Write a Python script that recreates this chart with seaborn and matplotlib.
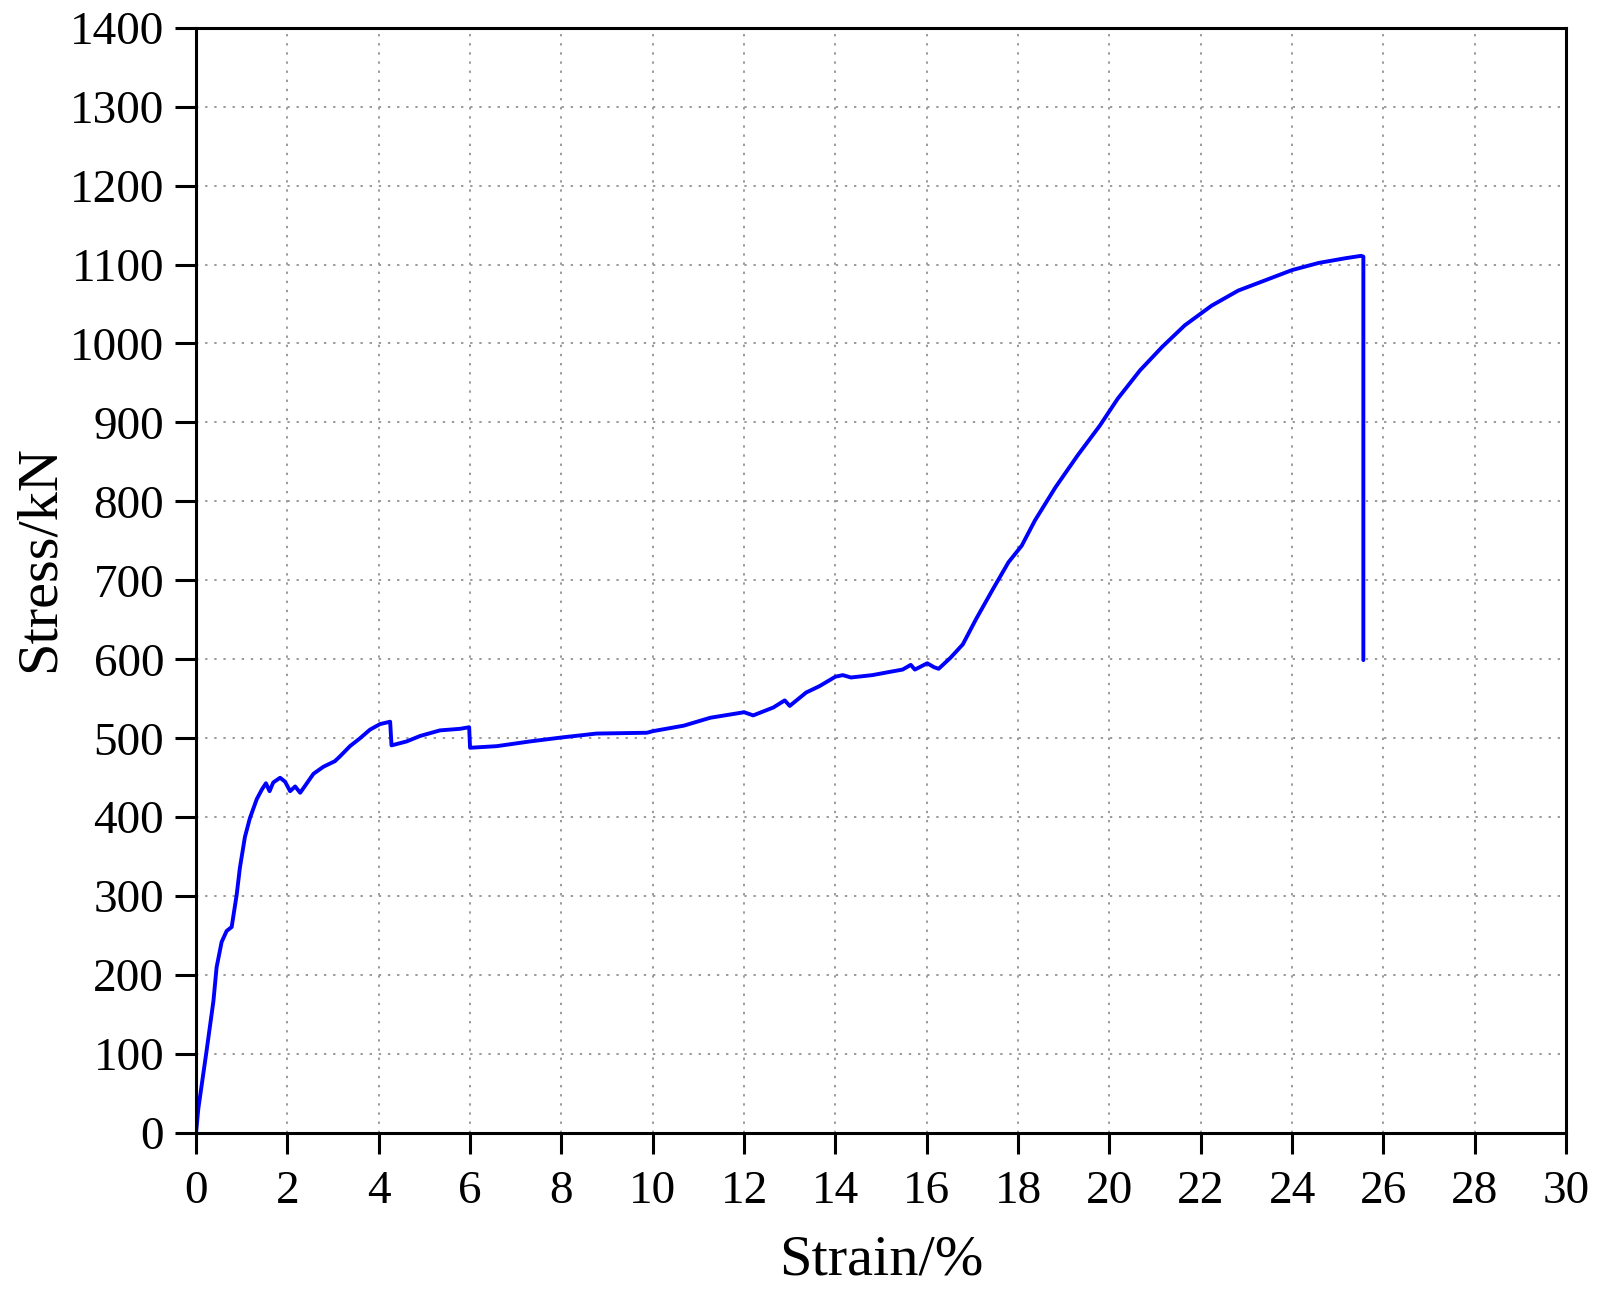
import matplotlib
matplotlib.use("Agg")
import matplotlib.pyplot as plt
import seaborn as sns
import pandas as pd

# strain (%) and stress (kN)
strain = [0, 0.05, 0.23, 0.38, 0.45, 0.56, 0.67, 0.78, 0.89, 0.96, 1.07, 1.18, 1.33, 1.44,
          1.53, 1.61, 1.69, 1.84, 1.95, 2.06, 2.17, 2.28, 2.39, 2.57, 2.79, 3.04, 3.15, 3.37,
          3.59, 3.81, 4.03, 4.25, 4.28, 4.61, 4.91, 5.34, 5.78, 5.98, 6.0, 6.58, 7.31, 8.0,
          8.77, 9.87, 10.0, 10.68, 11.26, 12.0, 12.2, 12.64, 12.89, 13.0, 13.36, 13.65, 14.0,
          14.16, 14.34, 14.81, 15.18, 15.47, 15.65, 15.74, 16.01, 16.16, 16.26, 16.52, 16.79,
          17.08, 17.45, 17.79, 18.08, 18.37, 18.82, 19.30, 19.79, 20.18, 20.67, 21.16, 21.65,
          22.24, 22.82, 23.41, 24.0, 24.58, 25.17, 25.51, 25.56, 25.56]
stress = [0, 31, 104, 167, 210, 242, 256, 261, 302, 336, 375, 399, 423, 435,
          443, 433, 444, 450, 445, 433, 439, 431, 440, 455, 464, 471, 477, 490,
          500, 511, 518, 521, 491, 496, 503, 510, 512, 514, 488, 490, 496, 501,
          506, 507, 509, 516, 526, 533, 529, 539, 548, 541, 558, 566, 578,
          580, 577, 580, 584, 587, 593, 587, 595, 590, 588, 602, 619,
          651, 689, 723, 744, 776, 818, 858, 896, 930, 966, 996, 1023,
          1048, 1067, 1080, 1093, 1102, 1108, 1111, 1110, 599]

x_ticks = list(range(0, 31, 2))
y_ticks = list(range(0, 1401, 100))

df = pd.DataFrame({"Strain": strain, "Stress": stress})

sns.set_style("ticks")
plt.rcParams["font.family"] = ["Liberation Serif", "DejaVu Serif"]
plt.rcParams["text.color"] = "black"
plt.rcParams["axes.labelcolor"] = "black"

fig = plt.figure(figsize=(16.03, 12.92), dpi=100)
ax = fig.add_axes([0.1223, 0.123, 0.977 - 0.1223, 0.9786 - 0.123])

sns.lineplot(data=df, x="Strain", y="Stress", sort=False, estimator=None,
             color="#0000ff", linewidth=2.8, ax=ax)

ax.set_xlim(0, 30)
ax.set_ylim(0, 1400)
ax.set_xticks(x_ticks)
ax.set_yticks(y_ticks)
ax.grid(True, color="#9a9a9a", linestyle=(0, (1.2, 3.5)), linewidth=1.4)

for s in ax.spines.values():
    s.set_linewidth(2.2)
    s.set_color("black")

ax.tick_params(axis="both", direction="out", length=15, width=2.2, labelsize=34, colors="black")
ax.tick_params(axis="x", pad=12)
ax.tick_params(axis="y", pad=8)

ax.set_xlabel("Strain/%", fontsize=42)
ax.set_ylabel("Stress/kN", fontsize=42)
ax.xaxis.set_label_coords(0.5, -0.092)
ax.yaxis.set_label_coords(-0.095, 0.52)

fig.savefig("out.png", dpi=100)
